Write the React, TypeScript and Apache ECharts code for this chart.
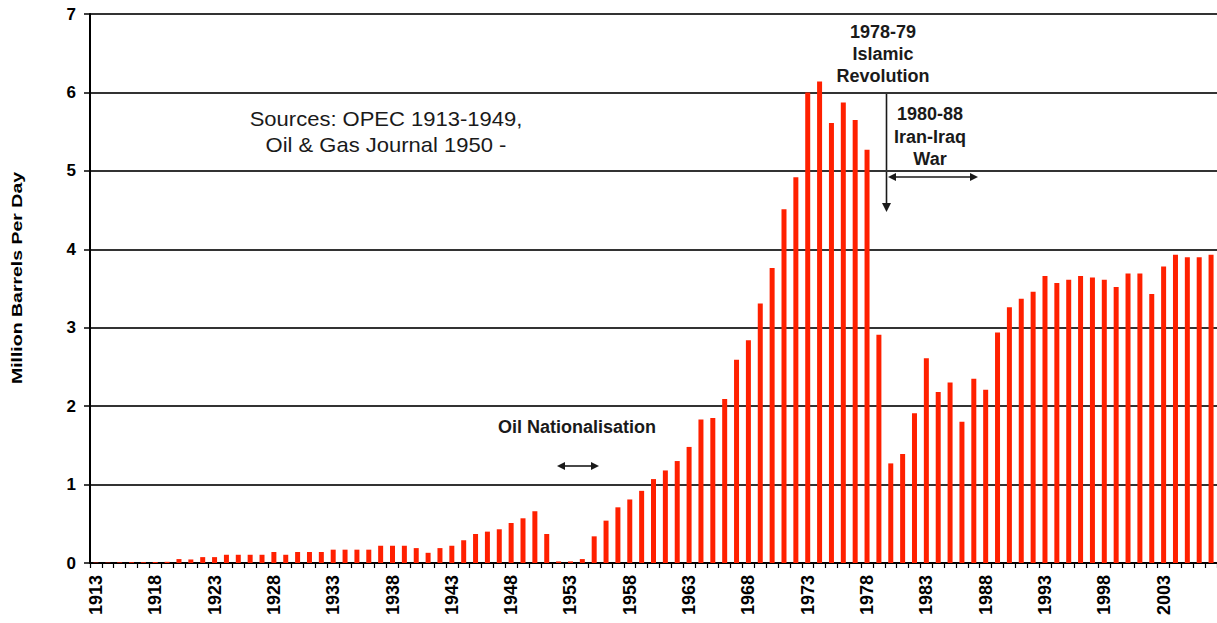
import React, { useEffect, useRef } from "react";
import * as echarts from "echarts";

const FIRST_YEAR = 1913;
const LAST_YEAR = 2007;
const years: string[] = Array.from({ length: LAST_YEAR - FIRST_YEAR + 1 }, (_, i) => String(FIRST_YEAR + i));

// Iran crude oil production, million barrels per day
const production: number[] = [
  // 1913-1919
  0.005, 0.005, 0.008, 0.01, 0.01, 0.012, 0.015,
  // 1920-1929
  0.05, 0.045, 0.075, 0.075, 0.105, 0.105, 0.105, 0.105, 0.14, 0.105,
  // 1930-1939
  0.14, 0.14, 0.14, 0.17, 0.17, 0.17, 0.17, 0.22, 0.22, 0.22,
  // 1940-1949
  0.19, 0.13, 0.19, 0.22, 0.29, 0.37, 0.4, 0.43, 0.51, 0.57,
  // 1950-1959
  0.66, 0.37, 0.02, 0.02, 0.05, 0.34, 0.54, 0.71, 0.81, 0.92,
  // 1960-1969
  1.07, 1.18, 1.3, 1.48, 1.83, 1.85, 2.09, 2.59, 2.84, 3.31,
  // 1970-1979
  3.76, 4.51, 4.92, 6.0, 6.14, 5.61, 5.87, 5.65, 5.27, 2.91,
  // 1980-1989
  1.27, 1.39, 1.91, 2.61, 2.18, 2.3, 1.8, 2.35, 2.21, 2.94,
  // 1990-1999
  3.26, 3.37, 3.46, 3.66, 3.57, 3.61, 3.66, 3.64, 3.61, 3.52,
  // 2000-2007
  3.69, 3.69, 3.43, 3.78, 3.93, 3.9, 3.9, 3.93,
];

const yTicks = { min: 0, max: 7, interval: 1 };
const yAxisTitle = "Million Barrels Per Day";
const sourceLines = ["Sources: OPEC 1913-1949,", "Oil & Gas Journal 1950 -"];
const revolutionLines = ["1978-79", "Islamic", "Revolution"];
const warLines = ["1980-88", "Iran-Iraq", "War"];
const nationalisationLabel = "Oil Nationalisation";

const FONT = "'Liberation Sans', Arial, Helvetica, sans-serif";
const BAR_RED = "#ff2000";
const INK = "#1a1a1a";

function textLines(lines: string[], cx: number, y0: number, step: number, size: number, weight: string, scaleX = 1) {
  return lines.map((t, i) => ({
    type: "text",
    x: cx,
    y: y0 + i * step,
    scaleX,
    silent: true,
    style: {
      text: t,
      font: `${weight} ${size}px ${FONT}`,
      fill: INK,
      textAlign: "center",
      textVerticalAlign: "middle",
    },
  }));
}

function hArrow(x1: number, x2: number, y: number, head = 8, half = 4) {
  return [
    { type: "line", silent: true, shape: { x1: x1 + head - 1, y1: y, x2: x2 - head + 1, y2: y }, style: { stroke: INK, lineWidth: 1.6 } },
    { type: "polygon", silent: true, shape: { points: [[x1, y], [x1 + head, y - half], [x1 + head, y + half]] }, style: { fill: INK } },
    { type: "polygon", silent: true, shape: { points: [[x2, y], [x2 - head, y - half], [x2 - head, y + half]] }, style: { fill: INK } },
  ];
}

export default function App() {
  const ref = useRef<HTMLDivElement>(null);

  useEffect(() => {
    if (!ref.current) return;
    const chart = echarts.init(ref.current, null, { renderer: "svg" });

    const graphics: any[] = [
      ...textLines(sourceLines, 386, 119, 26, 20, "normal", 1.1),
      ...textLines(revolutionLines, 883, 32, 22, 18, "bold"),
      ...textLines(warLines, 930, 114, 22.5, 18, "bold"),
      ...textLines([nationalisationLabel], 577, 427, 22, 18, "bold"),
      // y-axis title
      {
        type: "text",
        x: 17,
        y: 278,
        rotation: Math.PI / 2,
        scaleX: 1.3,
        silent: true,
        style: {
          text: yAxisTitle,
          font: `bold 15px ${FONT}`,
          fill: "#000",
          textAlign: "center",
          textVerticalAlign: "middle",
        },
      },
      // revolution arrow (vertical, pointing down)
      { type: "line", silent: true, shape: { x1: 886.5, y1: 93, x2: 886.5, y2: 204 }, style: { stroke: INK, lineWidth: 1.6 } },
      { type: "polygon", silent: true, shape: { points: [[886.5, 212], [882, 203], [891, 203]] }, style: { fill: INK } },
      // Iran-Iraq war arrow
      ...hArrow(888, 978, 177),
      // nationalisation arrow
      ...hArrow(557, 599, 466),
    ];

    chart.setOption({
      animation: false,
      backgroundColor: "#ffffff",
      textStyle: { fontFamily: FONT },
      grid: { left: 90, top: 14, width: 1129, height: 549, containLabel: false },
      xAxis: {
        type: "category",
        data: years,
        boundaryGap: true,
        axisLine: { show: true, lineStyle: { color: "#000", width: 2 } },
        axisTick: { show: true, interval: 0, length: 5, lineStyle: { color: "#000", width: 1.2 } },
        axisLabel: {
          interval: 4,
          rotate: 90,
          margin: 12,
          color: "#000",
          fontWeight: "bold",
          fontSize: 18,
          fontFamily: FONT,
        },
        splitLine: { show: false },
      },
      yAxis: {
        type: "value",
        min: yTicks.min,
        max: yTicks.max,
        interval: yTicks.interval,
        axisLine: { show: true, lineStyle: { color: "#000", width: 2 } },
        axisTick: { show: true, length: 6, lineStyle: { color: "#000", width: 1.5 } },
        axisLabel: {
          margin: 14,
          color: "#000",
          fontWeight: "bold",
          fontSize: 17,
          fontFamily: FONT,
        },
        splitLine: { show: true, lineStyle: { color: "#333", width: 2 } },
      },
      series: [
        {
          type: "bar",
          data: production,
          barWidth: 5,
          itemStyle: { color: BAR_RED },
        },
      ],
      graphic: graphics,
    });

    return () => chart.dispose();
  }, []);

  return (
    <div
      ref={ref}
      style={{ position: "absolute", left: 0, top: 0, width: 1217, height: 623, background: "#fff" }}
    />
  );
}
